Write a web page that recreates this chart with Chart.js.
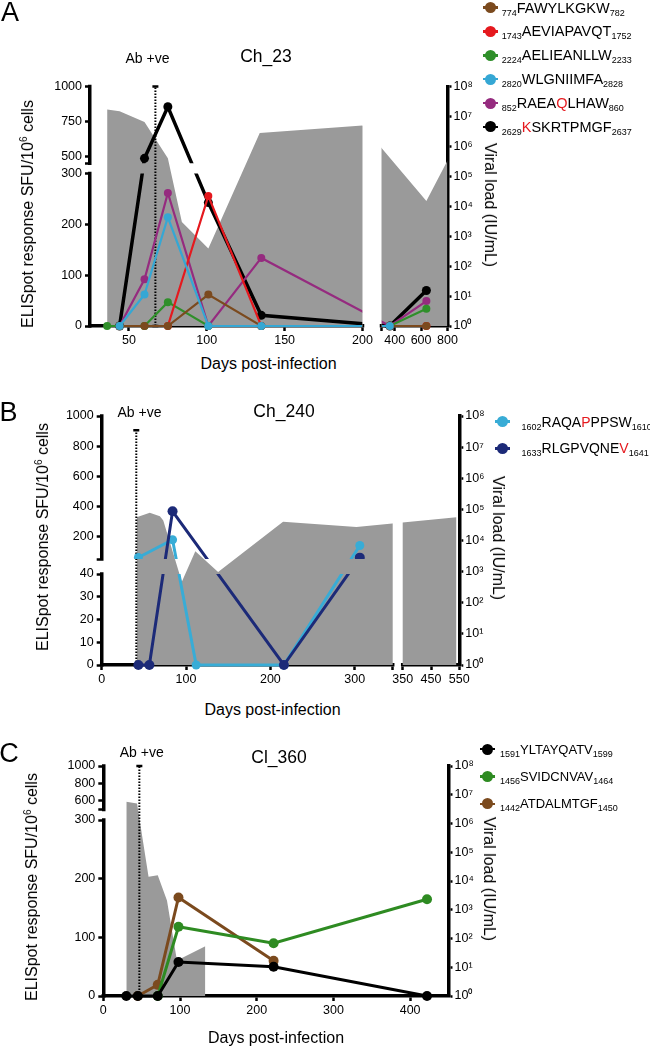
<!DOCTYPE html>
<html>
<head>
<meta charset="utf-8">
<title>ELISpot responses and viral load</title>
<script src="https://cdn.jsdelivr.net/npm/chart.js@4.4.1/dist/chart.umd.min.js"></script>
<style>
  html, body { margin: 0; padding: 0; background: #fff; }
  body { font-family: "Liberation Sans", Arial, Helvetica, sans-serif; color: #000; }
  #page { position: relative; width: 650px; height: 1048px; overflow: hidden; }
  #page canvas { position: absolute; left: 0; }
  .lbl { position: absolute; transform: translate(-50%, -50%); white-space: nowrap; line-height: 1; }
  .rot-l { transform: translate(-50%, -50%) rotate(-90deg); }
  .rot-r { transform: translate(-50%, -50%) rotate(90deg); }
  .letter { font-size: 27px; }
  .ab { font-size: 14px; }
  .title { font-size: 17.5px; }
  .axis-title { font-size: 16px; }
  .axis-title sup { font-size: 10px; line-height: 0; vertical-align: 6px; }
  .legend { position: absolute; }
  .legend .row { display: flex; align-items: center; white-space: nowrap; }
  .legend .mk { position: relative; width: 15px; height: 11px; flex: none; }
  .legend .mk::before { content: ""; position: absolute; left: 0; right: 0; top: 4.25px; height: 2.5px; background: currentColor; }
  .legend .mk::after { content: ""; position: absolute; left: 2px; top: 0; width: 11px; height: 11px; border-radius: 50%; background: currentColor; }
  .legend sub { font-size: 9px; line-height: 0; vertical-align: -3px; }
  .hl { color: #e5191e; }
</style>
</head>
<body>
<div id="page">
  <!-- Panel A -->
  <canvas id="chartA" width="650" height="350" style="top:0px"></canvas>
  <div class="lbl letter" style="left:10px;top:11.7px">A</div>
  <div class="lbl ab" style="left:147.5px;top:58px">Ab +ve</div>
  <div class="lbl title" style="left:266px;top:57px">Ch_23</div>
  <div class="lbl axis-title rot-l" style="left:28.3px;top:214px">ELISpot response SFU/10<sup>6</sup> cells</div>
  <div class="lbl axis-title" style="left:268.5px;top:363.5px">Days post-infection</div>
  <div class="lbl axis-title rot-r" style="left:490px;top:205px">Viral load (IU/mL)</div>
  <div class="legend" id="legendA" style="left:483.2px;top:-4.45px;font-size:14.5px"></div>

  <!-- Panel B -->
  <canvas id="chartB" width="650" height="335" style="top:356px"></canvas>
  <div class="lbl letter" style="left:8.5px;top:412px">B</div>
  <div class="lbl ab" style="left:139.5px;top:411.7px">Ab +ve</div>
  <div class="lbl title" style="left:284px;top:411.7px">Ch_240</div>
  <div class="lbl axis-title rot-l" style="left:43.3px;top:536.5px">ELISpot response SFU/10<sup>6</sup> cells</div>
  <div class="lbl axis-title" style="left:272.5px;top:710px">Days post-infection</div>
  <div class="lbl axis-title rot-r" style="left:498.3px;top:538px">Viral load (IU/mL)</div>
  <div class="legend" id="legendB" style="left:494.8px;top:408.4px;font-size:14px"></div>

  <!-- Panel C -->
  <canvas id="chartC" width="650" height="340" style="top:690px"></canvas>
  <div class="lbl letter" style="left:9px;top:753px">C</div>
  <div class="lbl ab" style="left:141.7px;top:751.7px">Ab +ve</div>
  <div class="lbl title" style="left:279px;top:757.5px">Cl_360</div>
  <div class="lbl axis-title rot-l" style="left:31.7px;top:886.7px">ELISpot response SFU/10<sup>6</sup> cells</div>
  <div class="lbl axis-title" style="left:276px;top:1038px">Days post-infection</div>
  <div class="lbl axis-title rot-r" style="left:489px;top:879px">Viral load (IU/mL)</div>
  <div class="legend" id="legendC" style="left:480px;top:735.6px;font-size:13px"></div>
</div>

<script>
// ---- Panel A: Ch_23 ----
const aDays = [36, 44, 60, 75, 101, 135, 363, 640];
const aFAWYLKGKW = [null, 0, 0, 0, 62, 0, 0, 0];
const aAEVIAPAVQT = [null, null, null, 0, 256, 0, 0, 0];
const aAELIEANLLW = [0, 0, 0, 47, 0, 0, 0, 34];
const aWLGNIIMFA = [null, 0, 62, 214, 0, 0, 0, null];
const aRAEAQLHAW = [null, 0, 92, 262, 0, 134, 0, 49];
const aKSKRTPMGF = [null, 0, 486, 855, 243, 21, 0, 70];
const aViralDays = [36, 44, 60, 75, 84, 101, 134, 200, 640, 800];
const aViralLoad = [1.7e7, 1.5e7, 6.5e6, 4.0e5, 3.0e3, 390, 2.8e6, 5.0e6, 1.5e4, 3.4e5];
const aAbDay = 67;
const aAbTop = 1000;
const aXBreaks = [[25, 200], [300, 800]];
const aXTicks = [50, 100, 150, 200, 400, 600, 800];
const aYBreaks = [[0, 300], [450, 1000]];
const aYTicks = [0, 100, 200, 300, 500, 750, 1000];
const aPeptides = [
    '<sub>774</sub>FAWYLKGKW<sub>782</sub>',
    '<sub>1743</sub>AEVIAPAVQT<sub>1752</sub>',
    '<sub>2224</sub>AELIEANLLW<sub>2233</sub>',
    '<sub>2820</sub>WLGNIIMFA<sub>2828</sub>',
    '<sub>852</sub>RAEA<span class="hl">Q</span>LHAW<sub>860</sub>',
    '<sub>2629</sub><span class="hl">K</span>SKRTPMGF<sub>2637</sub>'
];
const aColors = ['#7b4a1e', '#e5191e', '#2f8f2a', '#35a7d4', '#952b7f', '#000000'];

// ---- Panel B: Ch_240 ----
const bDays = [43.5, 56.5, 84, 112, 216, 306];
const bRAQAPPPSW = [60, null, 178, 0, 0, 140];
const bRLGPVQNEV = [0, 0, 367, null, 0, 59];
const bViralDays = [41.5, 57, 69, 73, 95, 111, 138, 215, 302, 540];
const bViralLoad = [5.6e4, 7.8e4, 6.0e4, 4.4e4, 470, 4.5e3, 980, 4.0e4, 2.7e4, 5.6e4];
const bAbDay = 41;
const bAbTop = 905;
const bXBreaks = [[0, 345], [350, 550]];
const bXTicks = [0, 100, 200, 300, 350, 450, 550];
const bYBreaks = [[0, 40], [50, 1000]];
const bYTicks = [0, 10, 20, 30, 40, 200, 400, 600, 800, 1000];
const bPeptides = [
    '<sub>1602</sub>RAQA<span class="hl">P</span>PPSW<sub>1610</sub>',
    '<sub>1633</sub>RLGPVQNE<span class="hl">V</span><sub>1641</sub>'
];
const bColors = ['#38acd6', '#1c2a78'];

// ---- Panel C: Cl_360 ----
const cDays = [30, 45, 71, 98, 222, 422];
const cYLTAYQATV = [0, 0, 0, 58, 50, 0];
const cSVIDCNVAV = [null, null, 0, 118, 90, 165];
const cATDALMTGF = [null, 0, 19, 168, 60, null];
const cViralDays = [30, 44, 59, 71, 83, 96, 133];
const cViralLoad = [5.7e6, 5.0e6, 1.4e4, 1.6e4, 2.1e3, 17, 54];
const cAbDay = 47;
const cAbTop = 1000;
const cXBreaks = [[0, 450]];
const cXTicks = [0, 100, 200, 300, 400];
const cYBreaks = [[0, 300], [500, 1000]];
const cYTicks = [0, 100, 200, 300, 600, 800, 1000];
const cPeptides = [
    '<sub>1591</sub>YLTAYQATV<sub>1599</sub>',
    '<sub>1456</sub>SVIDCNVAV<sub>1464</sub>',
    '<sub>1442</sub>ATDALMTGF<sub>1450</sub>'
];
const cColors = ['#000000', '#2e8b22', '#7b4a1e'];

// viral load axis (right, log)
const viralTicks = [1, 10, 100, 1e3, 1e4, 1e5, 1e6, 1e7, 1e8];
const SUP = ['\u2070', '\u00b9', '\u00b2', '\u00b3', '\u2074', '\u2075', '\u2076', '\u2077', '\u2078'];
const GRAY = '#9a9a9a';

Chart.defaults.font.family = '"Liberation Sans", Arial, Helvetica, sans-serif';
Chart.defaults.font.size = 12.5;
Chart.defaults.color = '#000';

// Linear scale with axis breaks: segments are [min, max, length], gap is the blank length between them
class BrokenLinearScale extends Chart.LinearScale {
    determineDataLimits() {
        const segs = this.options.segments;
        this.min = segs[0][0];
        this.max = segs[segs.length - 1][1];
    }

    buildTicks() {
        const segs = this.options.segments;
        const values = this.options.labelled.slice();
        segs.forEach((s, i) => {
            if (i > 0) values.push(s[0]);
            if (i < segs.length - 1) values.push(s[1]);
        });
        return [...new Set(values)].sort((a, b) => a - b).map(value => ({ value }));
    }

    totalLength() {
        const segs = this.options.segments;
        return segs.reduce((t, s) => t + s[2], 0) + this.options.gap * (segs.length - 1);
    }

    segmentDecimal(value) {
        const segs = this.options.segments;
        const gap = this.options.gap;
        let start = 0;
        for (let i = 0; i < segs.length; i++) {
            const [lo, hi, len] = segs[i];
            const next = segs[i + 1];
            if (!next || value <= hi) return (start + (value - lo) / (hi - lo) * len) / this.totalLength();
            if (value < next[0]) return (start + len + (value - hi) / (next[0] - hi) * gap) / this.totalLength();
            start += len + gap;
        }
        return 0;
    }

    getPixelForValue(value) {
        if (value === null || value === undefined || isNaN(value)) return NaN;
        return this.getPixelForDecimal(this.segmentDecimal(value));
    }

    getValueForPixel(pixel) {
        const segs = this.options.segments;
        const gap = this.options.gap;
        const d = this.getDecimalForPixel(pixel) * this.totalLength();
        let start = 0;
        for (let i = 0; i < segs.length; i++) {
            const [lo, hi, len] = segs[i];
            const next = segs[i + 1];
            if (!next || d <= start + len) return lo + (d - start) / len * (hi - lo);
            if (d < start + len + gap) return hi + (d - start - len) / gap * (next[0] - hi);
            start += len + gap;
        }
        return this.max;
    }

    // axis line drawn one piece per segment
    drawBorder() {
        const border = this.options.border;
        if (!border.display) return;
        const ctx = this.ctx;
        const pos = this._borderValue;
        ctx.save();
        ctx.lineWidth = border.width;
        ctx.strokeStyle = border.color;
        ctx.lineCap = 'square';
        ctx.beginPath();
        this.options.segments.forEach(s => {
            const a = this.getPixelForValue(s[0]);
            const b = this.getPixelForValue(s[1]);
            if (this.isHorizontal()) { ctx.moveTo(a, pos); ctx.lineTo(b, pos); }
            else { ctx.moveTo(pos, a); ctx.lineTo(pos, b); }
        });
        ctx.stroke();
        ctx.restore();
    }
}
BrokenLinearScale.id = 'broken';
Chart.register(BrokenLinearScale);

// pixel spans of each segment; outer ends pushed out so markers on the edges stay whole
function segmentSpans(scale, outerFirst, outerLast) {
    const segs = scale.options.segments;
    return segs.map((s, i) => {
        const a = i === 0 ? outerFirst : scale.getPixelForValue(s[0]);
        const b = i === segs.length - 1 ? outerLast : scale.getPixelForValue(s[1]);
        return [Math.min(a, b), Math.max(a, b)];
    });
}

function clipToSegments(chart, splitY) {
    const area = chart.chartArea;
    const m = 12;
    const xs = segmentSpans(chart.scales.x, area.left - m, area.right + m);
    const ys = splitY ? segmentSpans(chart.scales.yL, area.bottom + m, area.top - m)
                      : [[area.top - m, area.bottom + m]];
    const ctx = chart.ctx;
    ctx.save();
    ctx.beginPath();
    xs.forEach(([x0, x1]) => ys.forEach(([y0, y1]) => ctx.rect(x0, y0, x1 - x0, y1 - y0)));
    ctx.clip();
}

function splitsOnY(chart, index) {
    const ds = chart.data.datasets[index];
    return ds.yAxisID === 'yL' && !ds.spansBreak;
}

const breakClip = {
    id: 'breakClip',
    beforeDatasetsDraw(chart) { clipToSegments(chart, false); },
    afterDatasetsDraw(chart) { chart.ctx.restore(); },
    beforeDatasetDraw(chart, args) { if (splitsOnY(chart, args.index)) clipToSegments(chart, true); },
    afterDatasetDraw(chart, args) { if (splitsOnY(chart, args.index)) chart.ctx.restore(); }
};

function toPoints(days, values) {
    return days.map((d, i) => ({ x: d, y: values[i] })).filter(p => p.y !== null);
}

const tickText = labelled => v => labelled.includes(v) ? String(v) : '';

function axisGrid(len) {
    return { display: true, drawOnChartArea: false, drawTicks: true, tickLength: len, tickWidth: 2.5, tickColor: '#000' };
}
const axisBorder = { display: true, width: 3.5, color: '#000' };

function buildLegend(id, names, colors) {
    const box = document.getElementById(id);
    const rowH = box.dataset.row;
    names.forEach((name, i) => {
        const row = document.createElement('div');
        row.className = 'row';
        row.style.height = rowH + 'px';
        row.innerHTML = '<span class="mk" style="color:' + colors[i] + ';margin-right:' + box.dataset.gap + 'px"></span><span>' + name + '</span>';
        box.appendChild(row);
    });
}

function buildPanel(cfg) {
    const datasets = cfg.series.map(s => ({
        data: toPoints(cfg.days, s.values),
        yAxisID: 'yL',
        borderColor: s.color,
        backgroundColor: s.color,
        borderWidth: s.width,
        pointRadius: s.radius,
        pointBorderWidth: 0,
        order: s.order,
        clip: false
    }));
    // Ab +ve marker
    datasets.push({
        data: [{ x: cfg.abDay, y: 0 }, { x: cfg.abDay, y: cfg.abTop }],
        yAxisID: 'yL',
        spansBreak: true,
        borderColor: '#000',
        borderWidth: 2,
        borderDash: [1.5, 1.5],
        pointStyle: 'line',
        pointRadius: 3,
        pointBorderWidth: 2.5,
        pointBorderColor: '#000',
        order: 50,
        clip: false
    });
    // viral load shading
    datasets.push({
        data: toPoints(cfg.viralDays, cfg.viralLoad),
        yAxisID: 'yR',
        borderColor: 'rgba(0,0,0,0)',
        borderWidth: 1,
        backgroundColor: GRAY,
        fill: 'start',
        pointRadius: 0,
        order: 100,
        clip: false
    });

    const canvas = document.getElementById(cfg.canvas);
    const top = parseFloat(canvas.style.top);
    const a = cfg.area;

    return new Chart(canvas, {
        type: 'line',
        data: { datasets },
        options: {
            responsive: false,
            animation: false,
            events: [],
            devicePixelRatio: 1,
            layout: {
                padding: {
                    left: a.left - 40,
                    right: 650 - a.right - 40,
                    top: a.top - top,
                    bottom: canvas.height - (a.bottom - top) - 22
                }
            },
            plugins: { legend: { display: false }, tooltip: { enabled: false } },
            scales: {
                x: {
                    type: 'broken',
                    position: 'bottom',
                    segments: cfg.xBreaks.map((b, i) => [b[0], b[1], cfg.xLens[i]]),
                    gap: cfg.xGap,
                    labelled: cfg.xTicks,
                    grid: axisGrid(5),
                    border: axisBorder,
                    ticks: { padding: 2, autoSkip: false, maxRotation: 0, minRotation: 0, callback: tickText(cfg.xTicks) },
                    afterFit: s => { s.height = 22; }
                },
                yL: {
                    type: 'broken',
                    position: 'left',
                    segments: cfg.yBreaks.map((b, i) => [b[0], b[1], cfg.yLens[i]]),
                    gap: cfg.yGap,
                    labelled: cfg.yTicks,
                    grid: axisGrid(5),
                    border: axisBorder,
                    ticks: { padding: 3, autoSkip: false, callback: tickText(cfg.yTicks) },
                    afterFit: s => { s.width = 40; }
                },
                yR: {
                    type: 'logarithmic',
                    position: 'right',
                    min: 1,
                    max: 1e8,
                    grid: axisGrid(4),
                    border: axisBorder,
                    afterBuildTicks: s => { s.ticks = viralTicks.map(value => ({ value })); },
                    ticks: { padding: 2, autoSkip: false, callback: v => '10' + SUP[Math.round(Math.log10(v))] },
                    afterFit: s => { s.width = 40; }
                }
            }
        },
        plugins: [breakClip]
    });
}

document.addEventListener('DOMContentLoaded', function() {
    document.getElementById('legendA').dataset.row = 23.9;
    document.getElementById('legendA').dataset.gap = 3.5;
    document.getElementById('legendB').dataset.row = 26.6;
    document.getElementById('legendB').dataset.gap = 11.7;
    document.getElementById('legendC').dataset.row = 27.3;
    document.getElementById('legendC').dataset.gap = 5;
    buildLegend('legendA', aPeptides, aColors);
    buildLegend('legendB', bPeptides, bColors);
    buildLegend('legendC', cPeptides, cColors);

    buildPanel({
        canvas: 'chartA',
        area: { left: 90, right: 447.5, top: 86.5, bottom: 326 },
        days: aDays,
        series: [
            { values: aFAWYLKGKW, color: aColors[0], width: 2.2, radius: 4, order: 1 },
            { values: aAEVIAPAVQT, color: aColors[1], width: 2.2, radius: 4, order: 2 },
            { values: aAELIEANLLW, color: aColors[2], width: 2.2, radius: 4, order: 3 },
            { values: aWLGNIIMFA, color: aColors[3], width: 2.2, radius: 4, order: 0 },
            { values: aRAEAQLHAW, color: aColors[4], width: 2.2, radius: 4, order: 4 },
            { values: aKSKRTPMGF, color: aColors[5], width: 3.5, radius: 4.5, order: 5 }
        ],
        abDay: aAbDay, abTop: aAbTop,
        viralDays: aViralDays, viralLoad: aViralLoad,
        xBreaks: aXBreaks, xLens: [272.5, 66], xGap: 19, xTicks: aXTicks,
        yBreaks: aYBreaks, yLens: [152.7, 77], yGap: 10.3, yTicks: aYTicks
    });

    buildPanel({
        canvas: 'chartB',
        area: { left: 101.7, right: 459.3, top: 416, bottom: 665 },
        days: bDays,
        series: [
            { values: bRAQAPPPSW, color: bColors[0], width: 3, radius: 4.5, order: 1 },
            { values: bRLGPVQNEV, color: bColors[1], width: 3, radius: 5, order: 0 }
        ],
        abDay: bAbDay, abTop: bAbTop,
        viralDays: bViralDays, viralLoad: bViralLoad,
        xBreaks: bXBreaks, xLens: [291, 56.6], xGap: 10, xTicks: bXTicks,
        yBreaks: bYBreaks, yLens: [91, 143], yGap: 15, yTicks: bYTicks
    });

    buildPanel({
        canvas: 'chartC',
        area: { left: 103.3, right: 448.5, top: 766, bottom: 996 },
        days: cDays,
        series: [
            { values: cYLTAYQATV, color: cColors[0], width: 3, radius: 5, order: 0 },
            { values: cSVIDCNVAV, color: cColors[1], width: 3, radius: 5, order: 1 },
            { values: cATDALMTGF, color: cColors[2], width: 3, radius: 5, order: 2 }
        ],
        abDay: cAbDay, abTop: cAbTop,
        viralDays: cViralDays, viralLoad: cViralLoad,
        xBreaks: cXBreaks, xLens: [1], xGap: 0, xTicks: cXTicks,
        yBreaks: cYBreaks, yLens: [176, 43.5], yGap: 10.5, yTicks: cYTicks
    });
});
</script>
</body>
</html>
